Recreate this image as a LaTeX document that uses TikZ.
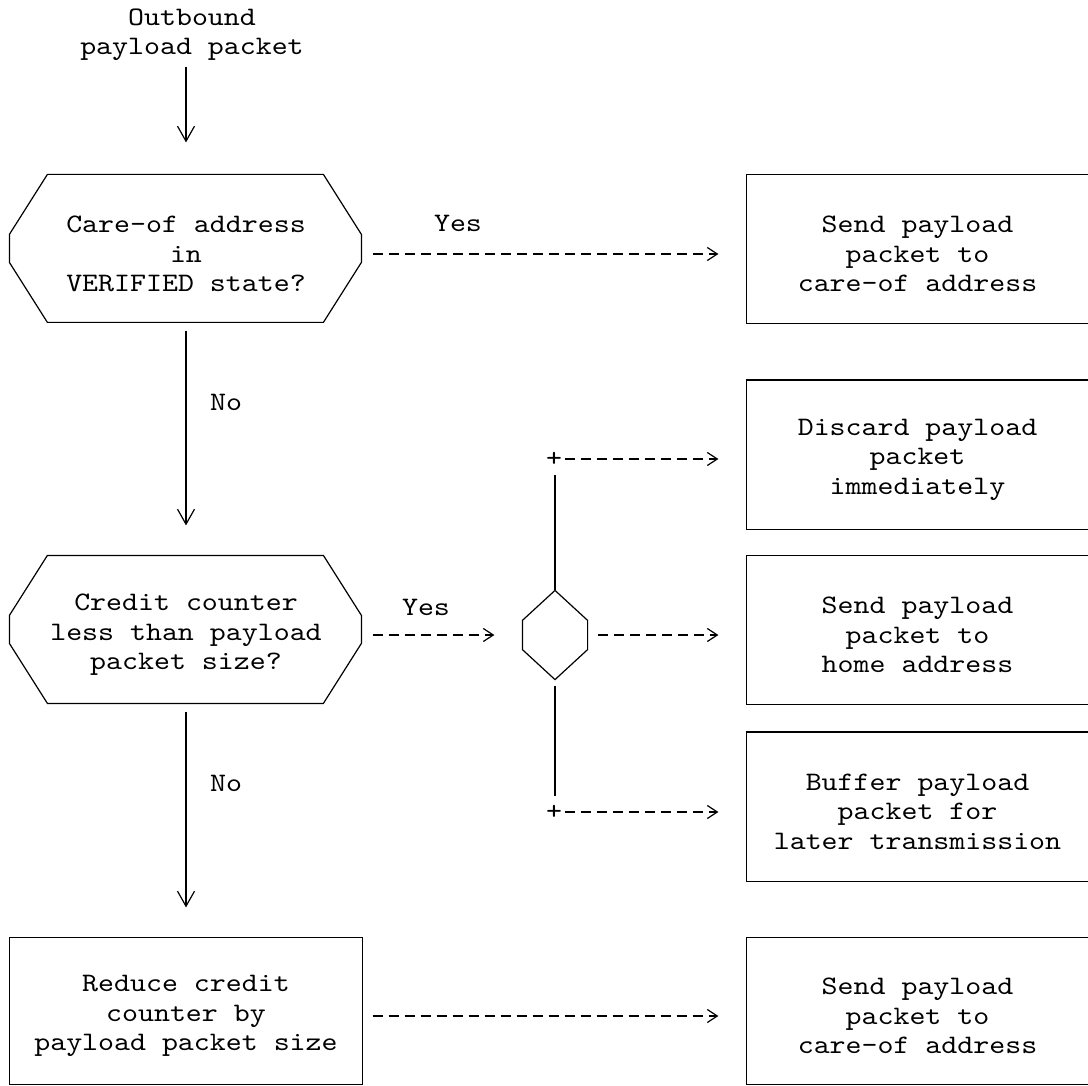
\documentclass[tikz,border=0pt]{standalone}
\usepackage{fontspec}
\newfontfamily\asciifont[Extension=.otf,FakeStretch=1.14]{lmmono10-regular}
\usepackage{tikz}
\usetikzlibrary{arrows.meta,positioning,calc}

\tikzset{
	every node/.style={
			font=\asciifont\fontsize{26.67}{29.4}\selectfont,
			align=center, inner sep=0pt,
		},
	decision/.style = {minimum width=352pt, minimum height=148pt},
	action/.style   = {minimum width=341pt, minimum height=148pt},
	procbox/.style  = {minimum width=352pt, minimum height=146pt},
	junction/.style = {minimum width=64pt, minimum height=88pt},
	flow/.style     = {-{Straight Barb[length=15pt,width=17pt]}, shorten <=2pt, shorten >=35pt},
	dashflow/.style = {dash pattern=on 10pt off 6pt, -{Straight Barb[length=10pt,width=13pt]},
			shorten <=10pt, shorten >=28pt},
}
% outlines sit 5pt above the text centre, as in the plain-text original
\newcommand{\decisionshape}[1]{\draw ([yshift=5pt]#1.north west) ++(38,0) -- ++(-38,60) -- ++(0,28) -- ++(38,60)
	-- ++(276,0) -- ++(38,-60) -- ++(0,-28) -- ++(-38,-60) -- cycle;}
\newcommand{\actionshape}[1]{\draw ([yshift=5pt]#1.north east) -- ([yshift=5pt]#1.north west)
	-- ([yshift=5pt]#1.south west) -- ([yshift=5pt]#1.south east);}

\begin{document}
\begin{tikzpicture}[x=1pt, y=-1pt, line width=1.2pt]
	\useasboundingbox (0,0) rectangle (1088,1086);

	\node (start) at (192,35) {Outbound\\payload packet};

	\node[decision] (verified) at (186,254) {Care-of address\\in\\VERIFIED state?};
	\node[decision] (credit) at (186,635) {Credit counter\\less than payload\\packet size?};
	\node[junction] (split) at (555,635) {};
	\node[procbox] (reduce) at (186,1016) {Reduce credit\\counter by\\payload packet size};

	\node[action] (sendcoa) at (917.5,254) {Send payload\\packet to\\care-of address};
	\node[action] (discard) at (917.5,459.5) {Discard payload\\packet\\immediately};
	\node[action] (sendhome) at (917.5,635) {Send payload\\packet to\\home address};
	\node[action] (buffer) at (917.5,811.5) {Buffer payload\\packet for\\later transmission};
	\node[action, minimum height=146pt] (sendcoatwo) at (917.5,1016) {Send payload\\packet to\\care-of address};

	\node (yesverified) at (458,223) {Yes};
	\node (noverified) at (226,402) {No};
	\node (yescredit) at (426,607) {Yes};
	\node (nocredit) at (226,783) {No};
	\node (plusup) at (554,459) {+};
	\node (pluslow) at (554,812) {+};

	\decisionshape{verified}
	\decisionshape{credit}
	\actionshape{sendcoa}
	\actionshape{discard}
	\actionshape{sendhome}
	\actionshape{buffer}
	\actionshape{sendcoatwo}
	\draw ([yshift=5pt]reduce.north west) rectangle ([yshift=5pt]reduce.south east);
	\draw (split.north) -- ([yshift=-30pt]split.north west) -- ([yshift=30pt]split.south west) -- (split.south)
		-- ([yshift=30pt]split.south east) -- ([yshift=-30pt]split.north east) -- cycle;

	\draw[flow, shorten <=5pt, shorten >=37pt] (start.south -| verified.north) -- (verified.north);
	\draw[flow] (verified.south) -- (credit.north);
	\draw[flow] (credit.south) -- (reduce.north);

	\draw[dashflow] (verified.east) -- (sendcoa.west);
	\draw[dashflow] (credit.east) -- (split.west);
	\draw[dashflow] (split.east) -- (sendhome.west);
	\draw[dashflow] (reduce.east) -- (sendcoatwo.west);

	\draw[shorten >=16pt] (split.north) -- (split.north |- plusup.center);
	\draw[shorten <=6pt, shorten >=16pt] (split.south) -- (split.south |- pluslow.center);
	\draw[dashflow, shorten <=2pt] (plusup.east) -- (plusup.east -| discard.west);
	\draw[dashflow, shorten <=2pt] (pluslow.east) -- (pluslow.east -| buffer.west);
\end{tikzpicture}
\end{document}
